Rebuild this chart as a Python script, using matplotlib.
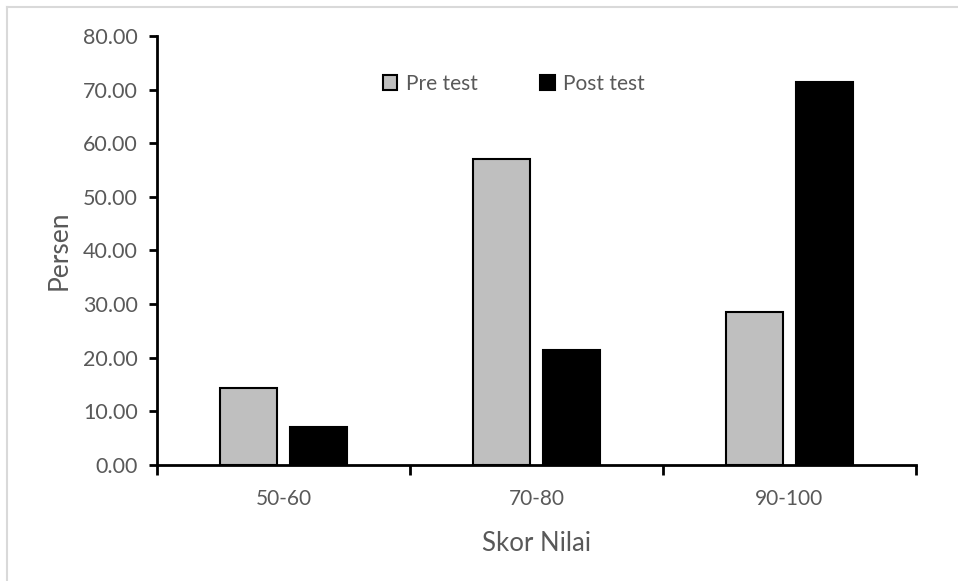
import numpy as np
import matplotlib.pyplot as plt
from matplotlib.lines import Line2D
from matplotlib.ticker import FormatStrFormatter

categories = ['50-60', '70-80', '90-100']
pre_test = [14.29, 57.14, 28.57]
post_test = [7.14, 21.43, 71.43]

plt.rcParams['font.family'] = ['Lato', 'DejaVu Sans']
grey_text = '#595959'

fig = plt.figure(figsize=(9.58, 5.81), dpi=100)
ax = fig.add_axes([157 / 958, 1 - 465 / 581, (916 - 157) / 958, (465 - 36) / 581])

x = np.arange(len(categories))
w = 0.225
off = 0.14
ax.bar(x - off, pre_test, w, color='#bfbfbf', edgecolor='black', linewidth=1.5, label='Pre test', zorder=3)
ax.bar(x + off, post_test, w, color='black', edgecolor='black', linewidth=1.5, label='Post test', zorder=3)

ax.set_xlim(-0.5, 2.5)
ax.set_ylim(0, 80)
ax.set_yticks(np.arange(0, 81, 10))
ax.yaxis.set_major_formatter(FormatStrFormatter('%.2f'))
ax.set_xticks([-0.5, 0.5, 1.5, 2.5])
ax.set_xticklabels([])
ax.set_xticks(x, minor=True)
ax.set_xticklabels(categories, minor=True)
ax.tick_params(axis='x', which='minor', length=0, pad=17, labelsize=15, labelcolor=grey_text)
ax.tick_params(axis='x', which='major', length=7, width=2, direction='out')
ax.tick_params(axis='y', length=6, width=2, direction='out', labelsize=15.5, labelcolor=grey_text, pad=8)

for s in ['top', 'right']:
    ax.spines[s].set_visible(False)
ax.spines['left'].set_linewidth(2)
ax.spines['bottom'].set_linewidth(2)

ax.set_ylabel('Persen', fontsize=19, color=grey_text, labelpad=8)
ax.set_xlabel('Skor Nilai', fontsize=18.5, color=grey_text, labelpad=16)

leg = ax.legend(loc='center', bbox_to_anchor=(0.47, 0.888), ncol=2, frameon=False,
                fontsize=15, handlelength=0.7, handleheight=0.7, columnspacing=3.0,
                handletextpad=0.4)
for t in leg.get_texts():
    t.set_color(grey_text)

fig.add_artist(Line2D([7 / 958, 1], [1 - 7 / 581, 1 - 7 / 581], color='#d9d9d9', lw=1.5))
fig.add_artist(Line2D([7 / 958, 7 / 958], [0, 1 - 7 / 581], color='#d9d9d9', lw=1.5))

fig.savefig('out.png', dpi=100)
